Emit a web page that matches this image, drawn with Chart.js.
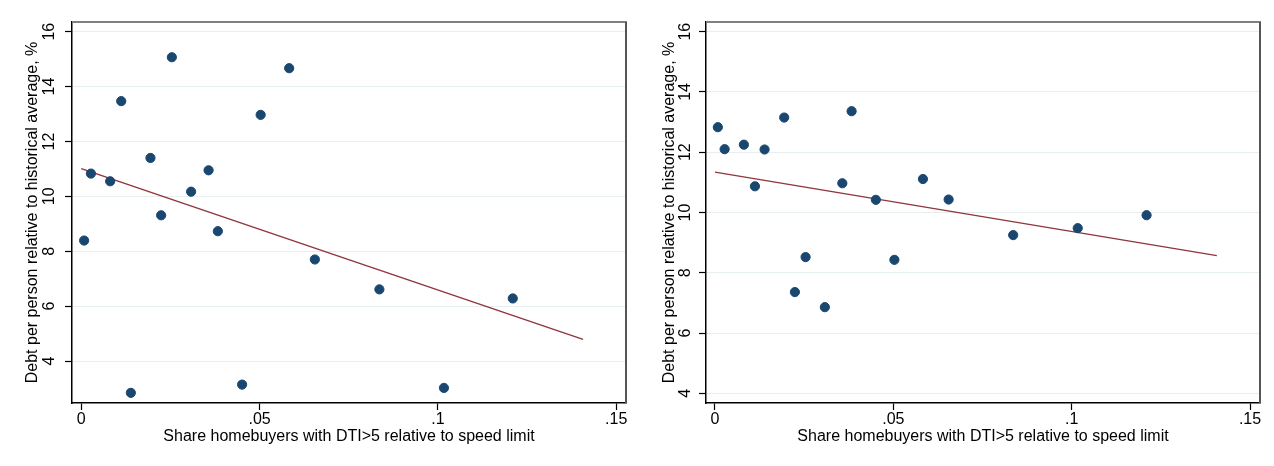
<!DOCTYPE html>
<html>
<head>
<meta charset="utf-8">
<script src="https://cdn.jsdelivr.net/npm/chart.js@4.4.1/dist/chart.umd.min.js"></script>
<style>
  html, body { margin: 0; padding: 0; background: #ffffff; }
  #wrap { position: relative; width: 1274px; height: 466px; overflow: hidden; }
  .panel { position: absolute; top: 0; width: 637px; height: 466px; }
</style>
</head>
<body>
<div id="wrap">
  <div class="panel" style="left:0px"><canvas id="c1" width="637" height="466"></canvas></div>
  <div class="panel" style="left:637px"><canvas id="c2" width="637" height="466"></canvas></div>
</div>
<script>
// ---- data ----
const shareDTI = [0.0008, 0.0027, 0.0081, 0.0112, 0.0139, 0.0194, 0.0224, 0.0254, 0.0308,
                  0.0357, 0.0383, 0.0451, 0.0503, 0.0583, 0.0655, 0.0836, 0.1017, 0.1210];
const debtLeft  = [8.39, 10.83, 10.55, 13.47, 2.84, 11.40, 9.31, 15.07, 10.17,
                   10.95, 8.73, 3.14, 12.97, 14.67, 7.70, 6.61, 3.02, 6.28];
const debtRight = [12.83, 12.10, 12.25, 10.87, 12.09, 13.15, 7.36, 8.52, 6.86,
                   10.97, 13.36, 10.42, 8.43, 11.11, 10.43, 9.25, 9.48, 9.91];
const fitX      = [0, 0.1407];
const fitLeft   = [11.01, 4.79];
const fitRight  = [11.34, 8.57];
const xTicks      = [0, 0.05, 0.1, 0.15];
const xTickLabels = ['0', '.05', '.1', '.15'];
const yTicks      = [4, 6, 8, 10, 12, 14, 16];
const xTitle = 'Share homebuyers with DTI>5 relative to speed limit';
const yTitle = 'Debt per person relative to historical average, %';

Chart.defaults.font.family = "'Liberation Sans', Arial, sans-serif";
Chart.defaults.font.size = 16;
Chart.defaults.color = '#000000';

const frame = {
  id: 'frame',
  afterDatasetsDraw(chart) {
    const a = chart.chartArea, ctx = chart.ctx;
    ctx.save();
    ctx.lineWidth = 2;
    ctx.strokeStyle = '#808080';
    ctx.beginPath(); ctx.moveTo(a.left, a.top); ctx.lineTo(a.right + 1, a.top); ctx.stroke();
    ctx.strokeStyle = '#555555';
    ctx.beginPath(); ctx.moveTo(a.right, a.top); ctx.lineTo(a.right, a.bottom); ctx.stroke();
    ctx.restore();
  }
};

function makePanel(id, yVals, fitY, area, yMin, yMax, xMin, xMax, yPad) {
  const W = 637, H = 466;
  new Chart(document.getElementById(id), {
    type: 'scatter',
    data: {
      datasets: [
        {
          type: 'scatter',
          data: shareDTI.map((x, i) => ({ x: x, y: yVals[i] })),
          backgroundColor: '#1a476f',
          borderColor: '#1a476f',
          borderWidth: 1,
          pointRadius: 4.6,
          order: 0
        },
        {
          type: 'line',
          data: fitX.map((x, i) => ({ x: x, y: fitY[i] })),
          borderColor: '#90353b',
          borderWidth: 1.4,
          pointRadius: 0,
          fill: false,
          order: 1
        }
      ]
    },
    options: {
      responsive: false,
      animation: false,
      devicePixelRatio: 1,
      layout: { padding: { left: 0, top: area.top, right: W - area.right, bottom: 0 } },
      plugins: { legend: { display: false }, tooltip: { enabled: false } },
      scales: {
        x: {
          type: 'linear',
          min: xMin, max: xMax,
          afterBuildTicks: s => { s.ticks = xTicks.map(v => ({ value: v })); },
          afterFit: s => { s.height = H - area.bottom; },
          ticks: {
            callback: (v, i) => xTickLabels[i],
            padding: 0,
            maxRotation: 0, minRotation: 0,
            font: { size: 16 }
          },
          grid: { drawOnChartArea: false, drawTicks: true, tickLength: 7, tickColor: '#000000', tickWidth: 1.2 },
          border: { display: true, color: '#000000', width: 1.5 },
          title: { display: true, text: xTitle, font: { size: 16 }, padding: { top: 0, bottom: 19.5 } }
        },
        y: {
          type: 'linear',
          min: yMin, max: yMax,
          afterBuildTicks: s => { s.ticks = yTicks.map(v => ({ value: v })); },
          afterFit: s => { s.width = area.left; },
          ticks: {
            callback: v => String(v),
            minRotation: 90, maxRotation: 90,
            crossAlign: 'center',
            padding: yPad,
            font: { size: 16 }
          },
          grid: { color: '#e6eef0', lineWidth: 1, drawTicks: true, tickLength: 7, tickColor: '#000000', tickWidth: 1.2 },
          border: { display: true, color: '#000000', width: 1.5 },
          title: { display: true, text: yTitle, font: { size: 16 }, padding: { top: 23.3, bottom: 0 } }
        }
      }
    },
    plugins: [frame]
  });
}

makePanel('c1', debtLeft, fitLeft, { left: 72, right: 626, top: 22, bottom: 403 },
          2.47, 16.354, -0.0026, 0.15275, 6.1);
makePanel('c2', debtRight, fitRight, { left: 69, right: 623, top: 22, bottom: 403 },
          3.68, 16.32, -0.00252, 0.1528, 4.1);
</script>
</body>
</html>
